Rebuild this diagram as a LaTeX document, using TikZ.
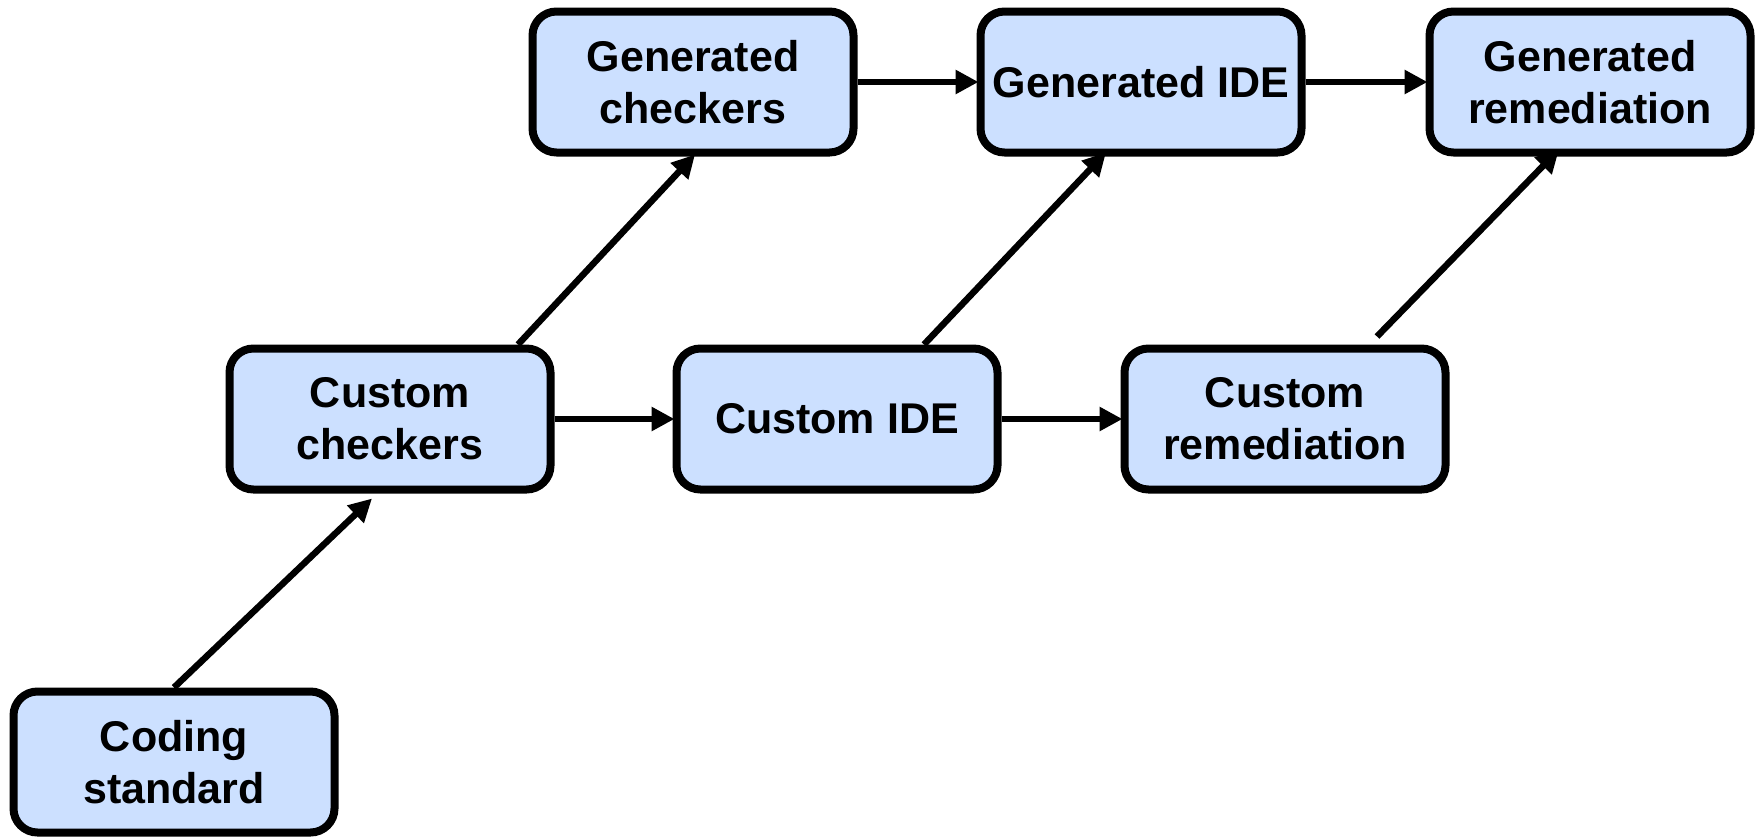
\documentclass[tikz,border=0pt]{standalone}
\usepackage{fontspec}
\setmainfont{Liberation Sans}
\usetikzlibrary{arrows.meta,calc}
\definecolor{boxfill}{HTML}{CCE0FF}
\tikzset{
  stage/.style={draw=black, line width=8pt, fill=boxfill, rounded corners=24pt,
    minimum width=321pt, minimum height=141pt, align=center, inner sep=0pt,
    font=\fontsize{43}{52}\selectfont\bfseries},
  flow/.style={line width=6.5pt, -{Triangle[length=23pt,width=23pt]}}
}
\begin{document}
\begin{tikzpicture}[x=1pt, y=-1pt]
\useasboundingbox (0,0) rectangle (1761,836);
% bottom-up chain of stages
\node[stage] (coding) at (174,762) {Coding\\standard};
\node[stage] (cchk) at (390,419) {Custom\\checkers};
\node[stage] (cide) at (837,419) {Custom IDE};
\node[stage] (crem) at (1285,419) {Custom\\remediation};
\node[stage] (gchk) at (693,82) {Generated\\checkers};
\node[stage] (gide) at (1141,82) {Generated IDE};
\node[stage] (grem) at (1590,82) {Generated\\remediation};
% diagonal links
\draw[flow] (coding.north) -- ($(cchk.south)+(-18,5)$);
\draw[flow] ($(cchk.north)+(128,0)$) -- ($(gchk.south)+(2,-2)$);
\draw[flow] ($(cide.north)+(87,0)$) -- ($(gide.south)+(-35,-4)$);
\draw[flow] ($(crem.north)+(92,-8)$) -- ($(grem.south)+(-31,-7)$);
% horizontal links
\draw[flow, shorten >=-2pt] (cchk.east) -- (cide.west);
\draw[flow, shorten >=-2pt] (cide.east) -- (crem.west);
\draw[flow, shorten >=-2pt] (gchk.east) -- (gide.west);
\draw[flow, shorten >=-2pt] (gide.east) -- (grem.west);
\end{tikzpicture}
\end{document}
